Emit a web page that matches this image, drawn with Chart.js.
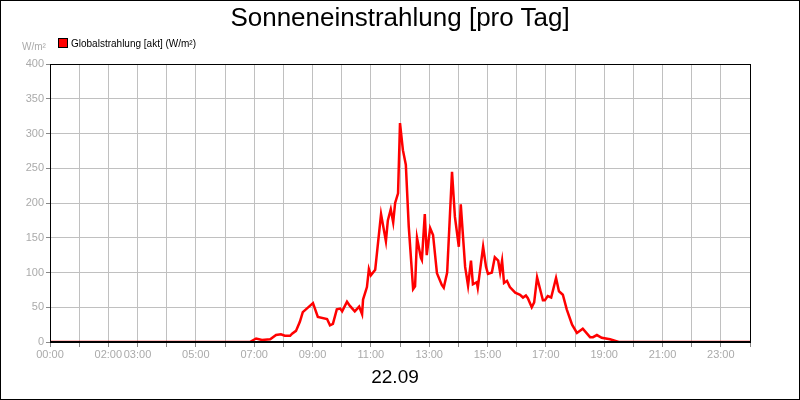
<!DOCTYPE html>
<html><head><meta charset="utf-8">
<script src="https://cdn.jsdelivr.net/npm/chart.js@4"></script>
<style>
body{margin:0;}
#w{position:relative;width:800px;height:400px;font-family:Arial,"Liberation Sans",sans-serif;}
.t{position:absolute;white-space:nowrap;}
</style></head><body>
<div id="w">
<canvas id="c" width="800" height="400"></canvas>
<div class="t" style="left:0;width:800px;top:2px;text-align:center;font-size:26px;color:#000">Sonneneinstrahlung [pro Tag]</div>
<div class="t" style="left:22px;top:41px;font-size:10px;color:#aaa">W/m²</div>
<div class="t" style="left:58px;top:38px;font-size:10px;color:#000"><span style="display:inline-block;width:8px;height:8px;background:#f00;border:1px solid #000;vertical-align:-1px;margin-right:3px"></span>Globalstrahlung [akt] (W/m²)</div>
<div class="t" style="left:0;width:790px;top:366px;text-align:center;font-size:19px;color:#000">22.09</div>
</div>
<script>
const minutes=[0,411,424,436,453,465,475,483,494,498,506,514,520,541,551,570,576,582,590,597,601,611,617,627,636,642,644,652,656,660,669,681,691,695,701,706,710,716,720,726,732,738,747,751,755,763,765,771,775,782,788,796,806,810,817,827,833,841,845,854,860,866,870,878,880,891,897,901,909,915,922,926,930,934,940,946,957,967,973,979,983,991,996,1002,1006,1014,1018,1024,1031,1041,1047,1055,1063,1074,1084,1096,1111,1117,1125,1135,1152,1170,1440];
const values=[0,0,5,3,4,10,11,9,9,12,16,29,43,56,36,33,24,26,47,48,44,58,52,44,51,40,61,79,105,96,104,184,145,175,191,172,200,214,315,276,255,166,76,80,150,121,118,184,125,164,154,99,82,78,100,245,180,137,198,108,81,117,83,86,78,137,108,98,100,122,117,100,117,85,88,79,71,68,64,67,63,50,57,93,82,60,60,66,64,92,73,68,47,25,13,19,7,7,10,6,4,0,0];
const labelHours=[0,2,3,5,7,9,11,13,15,17,19,21,23];
const yTicks=[0,50,100,150,200,250,300,350,400];
const pts=minutes.map((m,i)=>({x:m,y:values[i]}));
const frame={id:'frame',afterDraw(c){const g=c.ctx;g.save();g.strokeStyle='#000';g.lineWidth=1;g.strokeRect(0.5,0.5,799,399);
const a=c.chartArea;g.strokeRect(a.left+0.5,a.top+0.5,a.right-a.left,a.bottom-a.top);g.lineWidth=2;g.beginPath();g.moveTo(a.left,a.bottom);g.lineTo(a.right,a.bottom);g.stroke();g.restore();}};
new Chart(document.getElementById('c'),{type:'line',
data:{datasets:[{data:pts,borderColor:'#ff0000',borderWidth:2.5,pointRadius:0,tension:0}]},
options:{responsive:false,animation:false,
layout:{padding:{top:64,right:50,left:0,bottom:0}},
plugins:{legend:{display:false},title:{display:false},tooltip:{enabled:false}},
scales:{
x:{type:'linear',min:0,max:1440,
afterBuildTicks(s){s.ticks=[];for(let h=0;h<=24;h++)s.ticks.push({value:h*60});},
afterFit(s){s.height=58;},
grid:{color:'#c0c0c0',tickLength:5,tickColor:'#888'},border:{color:'#000'},
ticks:{autoSkip:false,maxRotation:0,color:'#aaa',font:{size:11,family:'Arial'},padding:1,
callback(v){const h=v/60;if(!labelHours.includes(h))return '';return String(h).padStart(2,'0')+':00';}}},
y:{min:0,max:400,
afterBuildTicks(s){s.ticks=yTicks.map(v=>({value:v}));},
afterFit(s){s.width=50;},
grid:{color:'#c0c0c0',tickLength:4,tickColor:'#888'},border:{color:'#000'},
ticks:{color:'#aaa',font:{size:11,family:'Arial'},padding:2}}}},
plugins:[frame]});
</script></body></html>
